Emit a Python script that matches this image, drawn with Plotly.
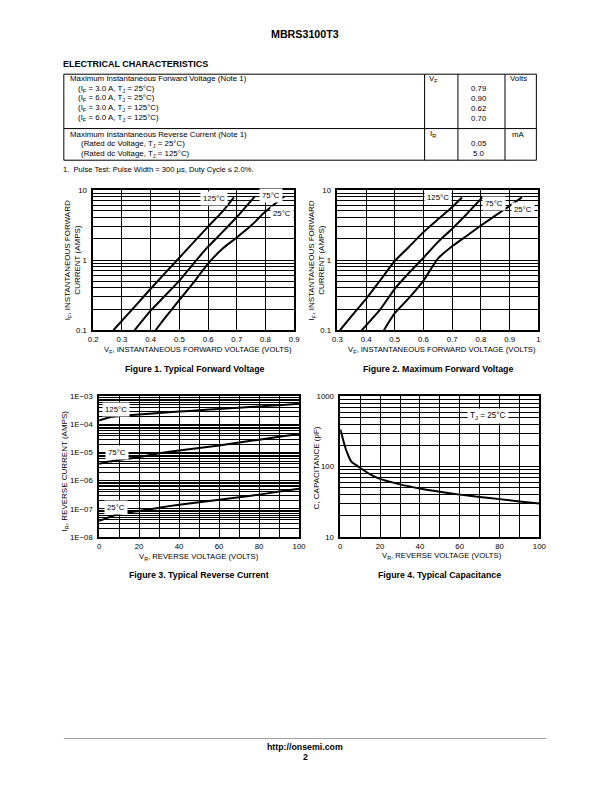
import math
import plotly.graph_objects as go

W, H = 612, 792
FONT = "Liberation Sans, Arial, Helvetica, sans-serif"

# ---------------- data ----------------
# Figure 1: typical forward voltage (V) vs current (A)
f1_v_125 = [0.27, 0.35, 0.40, 0.45, 0.50, 0.55, 0.60, 0.65, 0.69]
f1_i_125 = [0.1, 0.23, 0.39, 0.65, 1.08, 1.8, 3.0, 4.9, 7.8]
f1_v_75 = [0.344, 0.40, 0.45, 0.50, 0.55, 0.60, 0.65, 0.70, 0.763]
f1_i_75 = [0.1, 0.19, 0.31, 0.51, 0.9, 1.55, 2.5, 4.1, 8.1]
f1_v_25 = [0.417, 0.45, 0.50, 0.55, 0.60, 0.65, 0.70, 0.75, 0.80, 0.866]
f1_i_25 = [0.1, 0.15, 0.27, 0.48, 0.89, 1.45, 2.1, 3.1, 4.9, 8.1]

# Figure 2: maximum forward voltage
f2_v_125 = [0.309, 0.35, 0.40, 0.45, 0.50, 0.55, 0.60, 0.65, 0.70, 0.734]
f2_i_125 = [0.1, 0.16, 0.28, 0.52, 0.97, 1.55, 2.5, 3.8, 5.7, 7.8]
f2_v_75 = [0.385, 0.45, 0.50, 0.55, 0.60, 0.65, 0.70, 0.75, 0.805]
f2_i_75 = [0.1, 0.2, 0.39, 0.66, 1.08, 1.8, 2.8, 4.5, 7.8]
f2_v_25 = [0.462, 0.50, 0.55, 0.60, 0.65, 0.70, 0.75, 0.80, 0.85, 0.90, 0.943]
f2_i_25 = [0.1, 0.175, 0.29, 0.51, 1.05, 1.57, 2.2, 3.1, 4.3, 5.9, 7.8]

# Figure 3: typical reverse current (A) vs reverse voltage (V)
f3_v = [0, 5, 10, 20, 30, 40, 50, 60, 70, 80, 90, 100]
f3_i_125 = [1.4e-4, 1.8e-4, 2.0e-4, 2.3e-4, 2.6e-4, 2.9e-4, 3.25e-4, 3.6e-4, 4.0e-4, 4.4e-4, 4.9e-4, 5.5e-4]
f3_i_75 = [4.0e-6, 4.8e-6, 5.5e-6, 7.0e-6, 9.5e-6, 1.2e-5, 1.45e-5, 1.8e-5, 2.3e-5, 2.9e-5, 3.7e-5, 4.6e-5]
f3_i_25 = [3.7e-8, 5.0e-8, 6.7e-8, 8.3e-8, 1.1e-7, 1.4e-7, 1.7e-7, 2.1e-7, 2.6e-7, 3.2e-7, 4.1e-7, 5.2e-7]

# Figure 4: typical capacitance (pF) vs reverse voltage (V)
f4_v = [0, 1, 2, 3, 4, 5, 6, 8, 10, 15, 20, 30, 40, 50, 60, 70, 80, 90, 100]
f4_c = [340, 270, 210, 170, 145, 125, 115, 105, 96, 78, 67, 56, 49, 44, 40, 37, 34.5, 32, 30]

# tick labels
f12_yticks = [0.1, 1, 10]
f12_yticktext = ["0.1", "1", "10"]
f3_yticks = [1e-8, 1e-7, 1e-6, 1e-5, 1e-4, 1e-3]
f3_yticktext = ["1E\u221208", "1E\u221207", "1E\u221206", "1E\u221205", "1E\u221204", "1E\u221203"]
f4_yticks = [10, 100, 1000]
f4_yticktext = ["10", "100", "1000"]

# table content
table_forward_rows = ["(I<sub>F</sub> = 3.0 A, T<sub>J</sub> = 25°C)",
                      "(I<sub>F</sub> = 6.0 A, T<sub>J</sub> = 25°C)",
                      "(I<sub>F</sub> = 3.0 A, T<sub>J</sub> = 125°C)",
                      "(I<sub>F</sub> = 6.0 A, T<sub>J</sub> = 125°C)"]
table_forward_vals = ["0.79", "0.90", "0.62", "0.70"]
table_reverse_rows = ["(Rated dc Voltage, T<sub>J</sub> = 25°C)",
                      "(Rated dc Voltage, T<sub>J</sub> = 125°C)"]
table_reverse_vals = ["0.05", "5.0"]


def px(x):
    return x / W


def py(y):
    return 1 - y / H


ann = []
shapes = []


def text(x, y, s, size=7.7, bold=False, xa="left", ya="middle", angle=0, **kw):
    if bold:
        s = "<b>" + s + "</b>"
    if xa == "left":
        x -= 2
    ann.append(dict(x=px(x), y=py(y), xref="paper", yref="paper", text=s,
                    showarrow=False, xanchor=xa, yanchor=ya, textangle=angle,
                    borderpad=0, borderwidth=0,
                    font=dict(family=FONT, size=size, color="black"), **kw))


def hline(x0, x1, y, w=1, color="black"):
    shapes.append(dict(type="line", xref="paper", yref="paper", x0=px(x0), x1=px(x1),
                       y0=py(y), y1=py(y), line=dict(color=color, width=w)))


def vline(x, y0, y1, w=1, color="black"):
    shapes.append(dict(type="line", xref="paper", yref="paper", x0=px(x), x1=px(x),
                       y0=py(y0), y1=py(y1), line=dict(color=color, width=w)))


fig = go.Figure()

line = dict(color="black", width=2, shape="spline", smoothing=0.6)
for xs, ys in [(f1_v_125, f1_i_125), (f1_v_75, f1_i_75), (f1_v_25, f1_i_25)]:
    fig.add_trace(go.Scatter(x=xs, y=ys, mode="lines", line=line, xaxis="x", yaxis="y", showlegend=False))
for xs, ys in [(f2_v_125, f2_i_125), (f2_v_75, f2_i_75), (f2_v_25, f2_i_25)]:
    fig.add_trace(go.Scatter(x=xs, y=ys, mode="lines", line=line, xaxis="x2", yaxis="y2", showlegend=False))
for ys in [f3_i_125, f3_i_75, f3_i_25]:
    fig.add_trace(go.Scatter(x=f3_v, y=ys, mode="lines", line=line, xaxis="x3", yaxis="y3", showlegend=False))
fig.add_trace(go.Scatter(x=f4_v, y=f4_c, mode="lines", line=line, xaxis="x4", yaxis="y4", showlegend=False))

tickfont = dict(family=FONT, size=7.8, color="black")


def xaxis(dom, rng, dtick, anchor):
    return dict(domain=[px(dom[0]), px(dom[1])], range=rng, dtick=dtick, tick0=0,
                showgrid=True, gridcolor="black", gridwidth=1, showline=True, mirror=True,
                linecolor="black", linewidth=1.5, ticks="", tickfont=tickfont, zeroline=False,
                anchor=anchor, fixedrange=True, ticklabelstandoff=1)


def minor_vals(lo, hi):
    vals = []
    for e in range(lo, hi):
        for k in range(2, 10):
            vals.append(k * 10 ** e)
    return vals


def yaxis(dom, lo, hi, tv, tt, anchor):
    return dict(domain=[py(dom[1]), py(dom[0])], type="log", range=[lo, hi],
                tickmode="array", tickvals=tv, ticktext=tt,
                showgrid=True, gridcolor="black", gridwidth=1, showline=True, mirror=True,
                linecolor="black", linewidth=1.5, ticks="", tickfont=tickfont, zeroline=False,
                minor=dict(tickmode="array", tickvals=minor_vals(lo, hi), showgrid=True,
                           gridcolor="black", gridwidth=1, ticks=""),
                anchor=anchor, fixedrange=True, ticklabelstandoff=3)


D1 = ((90, 295), (188, 330))
D2 = ((339, 544), (188, 330))
D3 = ((96, 300), (397, 539))
D4 = ((342, 545), (397, 539))

layout = dict(
    width=W, height=H, autosize=False, margin=dict(l=0, r=0, t=0, b=0),
    paper_bgcolor="white", plot_bgcolor="white",
    xaxis=xaxis(D1[0], [0.2, 0.9], 0.1, "y"),
    yaxis=yaxis(D1[1], -1, 1, f12_yticks, f12_yticktext, "x"),
    xaxis2=xaxis(D2[0], [0.3, 1.0], 0.1, "y2"),
    yaxis2=yaxis(D2[1], -1, 1, f12_yticks, f12_yticktext, "x2"),
    xaxis3=xaxis(D3[0], [0, 100], 20, "y3"),
    yaxis3=yaxis(D3[1], -8, -3, f3_yticks, f3_yticktext, "x3"),
    xaxis4=xaxis(D4[0], [0, 100], 20, "y4"),
    yaxis4=yaxis(D4[1], 1, 3, f4_yticks, f4_yticktext, "x4"),
)
layout["xaxis3"]["minor"] = dict(dtick=10, tick0=0, showgrid=True, gridcolor="black", gridwidth=1, ticks="")
layout["xaxis4"]["minor"] = dict(dtick=10, tick0=0, showgrid=True, gridcolor="black", gridwidth=1, ticks="")


# curve labels (white boxes)
def clabel(xref, yref, x, y, s, size=7.8):
    ann.append(dict(x=x, y=math.log10(y), xref=xref, yref=yref, text=s, showarrow=False,
                    bgcolor="white", borderpad=2, xanchor="center", yanchor="middle",
                    font=dict(family=FONT, size=size, color="black")))


clabel("x", "y", 0.62, 7.6, "125°C")
clabel("x", "y", 0.818, 8.2, "75°C")
clabel("x", "y", 0.858, 4.6, "25°C")
clabel("x2", "y2", 0.651, 7.8, "125°C")
clabel("x2", "y2", 0.845, 6.3, "75°C")
clabel("x2", "y2", 0.948, 5.3, "25°C")
clabel("x3", "y3", 8.4, 3.5e-4, "125°C")
clabel("x3", "y3", 8.7, 1.0e-5, "75°C")
clabel("x3", "y3", 8.4, 1.15e-7, "25°C")
clabel("x4", "y4", 74, 520, "T<sub>J</sub> = 25°C", 8.2)

# axis titles
AT = 7.7
YT = 8.0
text(197, 350, "V<sub>F</sub>, INSTANTANEOUS FORWARD VOLTAGE (VOLTS)", AT, xa="center")
text(446, 350, "V<sub>F</sub>, INSTANTANEOUS FORWARD VOLTAGE (VOLTS)", AT, xa="center")
text(198, 559, "V<sub>R</sub>, REVERSE VOLTAGE (VOLTS)", AT, xa="center")
text(446, 558, "V<sub>R</sub>, REVERSE VOLTAGE (VOLTS)", AT, xa="center")
for cx in (64.5, 313.5):
    text(cx, 259, "I<sub>F</sub>, INSTANTANEOUS FORWARD", YT, xa="center", angle=-90)
    text(cx + 8.5, 259, "CURRENT (AMPS)", YT, xa="center", angle=-90)
text(61, 472, "I<sub>R</sub>, REVERSE CURRENT (AMPS)", YT, xa="center", angle=-90)
text(318, 469, "C, CAPACITANCE (pF)", YT, xa="center", angle=-90)

# figure captions
text(194, 369, "Figure 1. Typical Forward Voltage", 8.8, bold=True, xa="center")
text(442, 369, "Figure 2. Maximum Forward Voltage", 8.8, bold=True, xa="center")
text(198, 578, "Figure 3. Typical Reverse Current", 8.8, bold=True, xa="center")
text(443, 578, "Figure 4. Typical Capacitance", 8.8, bold=True, xa="center")

# header
text(306, 30, "MBRS3100T3", 10.7, bold=True, xa="center")
text(61, 61, "ELECTRICAL CHARACTERISTICS", 9.0, bold=True)

# table
TL, TR, TT, TM, TB = 60, 542, 71, 126, 158
hline(TL, TR, TT)
hline(TL, TR, TM)
hline(TL, TR, TB)
vline(TL, TT, TB)
vline(TR, TT, TB)
for xv in (428, 462, 510):
    vline(xv, TT, TB)

TS = 7.9
text(68, 75.5, "Maximum Instantaneous Forward Voltage (Note 1)", TS)
for i, (r, v) in enumerate(zip(table_forward_rows, table_forward_vals)):
    yy = 85.5 + 10 * i
    text(76, yy, r, TS)
    text(483, yy, v, TS, xa="center")
text(437, 75.5, "V<sub>F</sub>", TS, xa="center")
text(524, 75.5, "Volts", TS, xa="center")

text(68, 132, "Maximum Instantaneous Reverse Current (Note 1)", TS)
for i, (r, v) in enumerate(zip(table_reverse_rows, table_reverse_vals)):
    yy = 141.5 + 10 * i
    text(80, yy, r, TS)
    text(483, yy, v, TS, xa="center")
text(437, 132, "I<sub>R</sub>", TS, xa="center")
text(524, 132, "mA", TS, xa="center")

text(61, 167, "1.  Pulse Test: Pulse Width = 300 µs, Duty Cycle ≤ 2.0%.", 7.6)

# footer
hline(60, 552, 743, w=0.8, color="#888888")
text(306, 752, "http://onsemi.com", 8.8, bold=True, xa="center")
text(306, 762, "2", 8.8, bold=True, xa="center")

layout["annotations"] = ann
layout["shapes"] = shapes
fig.update_layout(**layout)
fig.write_html("out.html",
               config={"displayModeBar": False},
               post_script="document.body.style.margin='0';document.body.style.padding='0';"
                           "document.body.style.overflow='hidden';")
